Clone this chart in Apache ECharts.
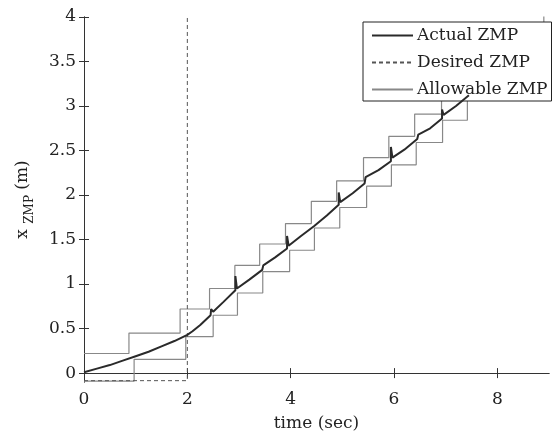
<!DOCTYPE html>
<html>
<head>
<meta charset="utf-8">
<script src="https://cdn.jsdelivr.net/npm/echarts@6/dist/echarts.min.js"></script>
<style>
  html, body { margin: 0; padding: 0; background: #fff; }
  #chart { width: 552px; height: 437px; }
</style>
</head>
<body>
<div id="chart"></div>
<script>
// values: [time (sec), x_ZMP (m)]
const actualZmp = [
  [0, 0.01], [0.25, 0.05], [0.5, 0.09], [0.75, 0.14], [1.0, 0.19],
  [1.25, 0.24], [1.5, 0.3], [1.75, 0.36], [2.0, 0.43], [2.1, 0.47],
  [2.25, 0.54], [2.45, 0.65], [2.46, 0.72], [2.5, 0.69], [2.7, 0.8],
  [2.93, 0.93], [2.93, 1.09], [2.96, 0.95], [3.2, 1.05], [3.45, 1.16],
  [3.47, 1.21], [3.7, 1.3], [3.93, 1.4], [3.93, 1.54], [3.96, 1.43],
  [4.2, 1.54], [4.45, 1.65], [4.7, 1.77], [4.93, 1.89], [4.93, 2.03],
  [4.96, 1.92], [5.2, 2.02], [5.43, 2.13], [5.45, 2.2], [5.7, 2.28],
  [5.94, 2.38], [5.94, 2.54], [5.97, 2.42], [6.2, 2.51], [6.45, 2.63],
  [6.47, 2.68], [6.7, 2.75], [6.93, 2.86], [6.93, 2.96], [6.96, 2.9],
  [7.2, 3.0], [7.45, 3.12]
];

const desiredZmp = [[0, -0.085], [2, -0.085], [2, 4]];

// allowable region: upper and lower step bounds
const allowableUpper = [
  [0, 0.22], [0.87, 0.45], [1.86, 0.72], [2.43, 0.95], [2.92, 1.21],
  [3.4, 1.45], [3.9, 1.68], [4.4, 1.93], [4.89, 2.16], [5.41, 2.42],
  [5.9, 2.66], [6.4, 2.91], [6.92, 3.15], [7.42, 3.39], [7.9, 3.63],
  [8.4, 3.87], [8.9, 4.11], [9, 4.11]
];
const allowableLower = [
  [0, -0.09], [0.97, 0.155], [1.97, 0.41], [2.5, 0.65], [2.97, 0.9],
  [3.46, 1.14], [3.98, 1.38], [4.46, 1.63], [4.95, 1.86], [5.47, 2.1],
  [5.95, 2.34], [6.43, 2.59], [6.94, 2.84], [7.42, 3.08], [7.92, 3.32],
  [8.42, 3.56], [8.92, 3.8], [9, 3.8]
];

const xTicks = [0, 2, 4, 6, 8];
const yTicks = [0, 0.5, 1, 1.5, 2, 2.5, 3, 3.5, 4];

const font = 'DejaVu Serif';
const ink = '#222';

const chart = echarts.init(document.getElementById('chart'));

const axisLine = { lineStyle: { color: '#333', width: 1 } };
const tick = { inside: true, length: 5, lineStyle: { color: '#333' } };

const option = {
  animation: false,
  backgroundColor: '#fff',
  grid: { left: 84, right: 3, top: 17, bottom: 50 },
  legend: {
    orient: 'vertical',
    left: 363,
    top: 22,
    width: 180,
    padding: [5, 4, 3, 8],
    itemGap: 10,
    itemWidth: 41,
    itemHeight: 14,
    // hide the marker dot, keep only the line sample
    itemStyle: { opacity: 0 },
    backgroundColor: '#fff',
    borderColor: '#222',
    borderWidth: 1,
    borderRadius: 0,
    textStyle: { fontFamily: font, fontSize: 17, color: ink, padding: [0, 0, 0, -1] },
    data: ['Actual ZMP', 'Desired ZMP', 'Allowable ZMP']
  },
  xAxis: [
    {
      type: 'value',
      min: 0,
      max: 9,
      name: 'time (sec)',
      nameLocation: 'middle',
      nameGap: 33,
      nameTextStyle: { fontFamily: font, fontSize: 17, color: ink },
      axisLine,
      axisTick: { ...tick, customValues: xTicks },
      axisLabel: {
        customValues: xTicks,
        margin: 9,
        fontFamily: font,
        fontSize: 17,
        color: ink
      },
      splitLine: { show: false }
    },
    {
      type: 'value',
      position: 'top',
      min: 0,
      max: 9,
      axisLine,
      axisTick: { ...tick, customValues: xTicks },
      axisLabel: { show: false },
      splitLine: { show: false }
    }
  ],
  yAxis: [
    {
      type: 'value',
      min: -0.1,
      max: 4,
      name: '{m|x }{s|ZMP}{m| (m)}',
      nameLocation: 'middle',
      nameGap: 48,
      nameTextStyle: {
        fontFamily: font,
        fontSize: 17,
        color: ink,
        rich: {
          m: { fontFamily: font, fontSize: 17, color: ink, lineHeight: 26, verticalAlign: 'middle' },
          s: { fontFamily: font, fontSize: 12, color: ink, lineHeight: 26, verticalAlign: 'bottom' }
        }
      },
      axisLine,
      axisTick: { ...tick, customValues: yTicks },
      axisLabel: {
        customValues: yTicks,
        margin: 8,
        fontFamily: font,
        fontSize: 17,
        color: ink
      },
      splitLine: { show: false }
    },
    {
      type: 'value',
      position: 'right',
      min: -0.1,
      max: 4,
      axisLine,
      axisTick: { ...tick, customValues: yTicks },
      axisLabel: { show: false },
      splitLine: { show: false }
    }
  ],
  series: [
    {
      name: 'Allowable ZMP',
      type: 'line',
      step: 'end',
      symbol: 'none',
      lineStyle: { color: '#888', width: 1.2 },
      itemStyle: { color: '#888' },
      data: allowableUpper,
      z: 2
    },
    {
      name: 'Allowable ZMP',
      type: 'line',
      step: 'end',
      symbol: 'none',
      lineStyle: { color: '#888', width: 1.2 },
      itemStyle: { color: '#888' },
      data: allowableLower,
      z: 2
    },
    {
      name: 'Desired ZMP',
      type: 'line',
      symbol: 'none',
      lineStyle: { color: '#555', width: 1, type: [4, 3] },
      itemStyle: { color: '#555' },
      data: desiredZmp,
      z: 3
    },
    {
      name: 'Actual ZMP',
      type: 'line',
      symbol: 'none',
      lineStyle: { color: '#2a2a2a', width: 2 },
      itemStyle: { color: '#2a2a2a' },
      data: actualZmp,
      z: 4
    }
  ]
};

chart.setOption(option);
</script>
</body>
</html>
